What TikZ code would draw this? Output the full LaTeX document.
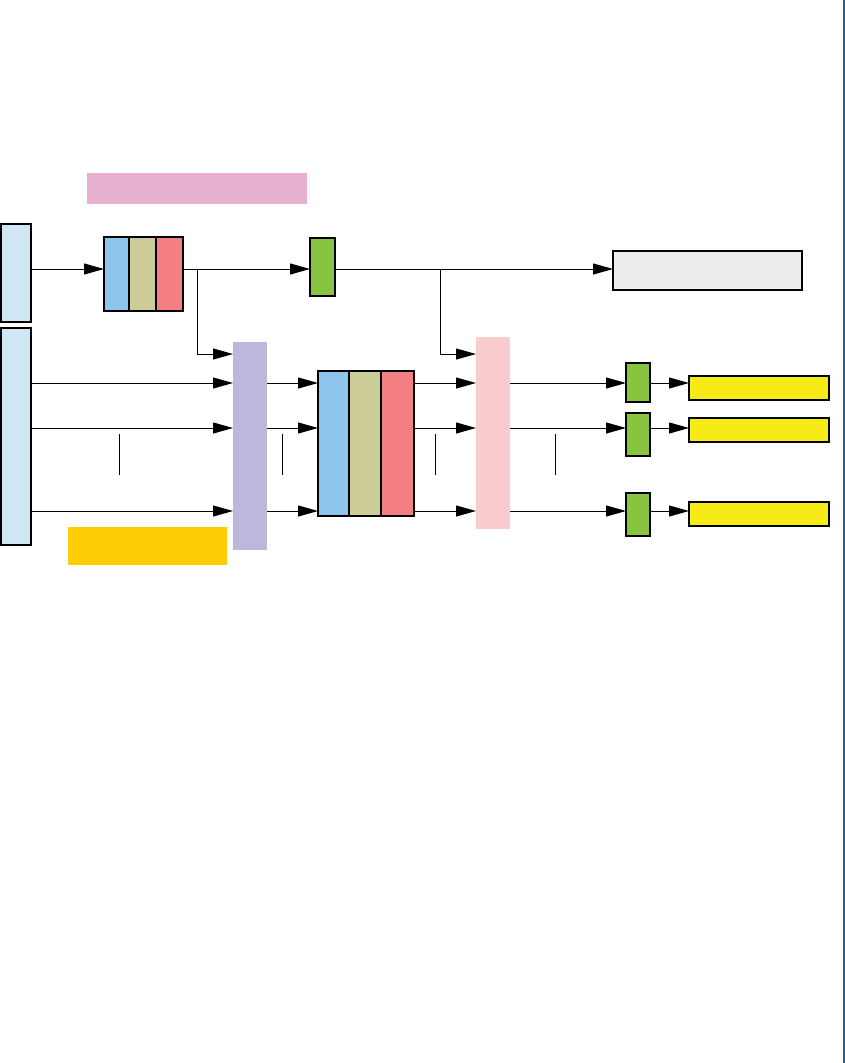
\documentclass[tikz,border=0pt]{standalone}
\usetikzlibrary{arrows.meta,positioning}

\definecolor{inblue}{HTML}{D0E6F5}
\definecolor{hdrpink}{HTML}{E8B1D2}
\definecolor{cblue}{HTML}{8EC5EC}
\definecolor{ckhaki}{HTML}{CCCC99}
\definecolor{cred}{HTML}{F47F80}
\definecolor{cgreen}{HTML}{87C540}
\definecolor{outgray}{HTML}{EDEDED}
\definecolor{mixpurple}{HTML}{BBB8DC}
\definecolor{selpink}{HTML}{F9CCD0}
\definecolor{outyellow}{HTML}{F6EA17}
\definecolor{noteorange}{HTML}{FDCD05}
\definecolor{rulblue}{HTML}{1766A8}

\tikzset{
  box/.style={draw, line width=1.3pt, inner sep=0pt, outer sep=0pt},
  pad/.style={inner sep=0pt, outer sep=0pt},
  link/.style={-{Triangle[length=20pt,width=11pt]}, line width=1pt},
  tick/.style={line width=1pt},
}

\begin{document}
\begin{tikzpicture}[x=1pt, y=-1pt, line cap=butt, line join=miter]
  \useasboundingbox (0,0) rectangle (845,1063);
  \draw[rulblue, line width=2.5pt] (844,0) -- (844,1063);

  % rows
  \coordinate (rowT) at (0,269);
  \coordinate (rowB) at (0,354);
  \coordinate (r1) at (0,383);
  \coordinate (r2) at (0,428);
  \coordinate (r3) at (0,511);

  % inputs and header
  \node[pad, fill=hdrpink, minimum width=220pt, minimum height=31pt] (hdr) at (197,188.5) {};
  \node[box, fill=inblue, minimum width=30pt, minimum height=98pt] (inTop) at (16,273) {};
  \node[box, fill=inblue, minimum width=30pt, minimum height=217pt] (inBot) at (16,436.5) {};
  \node[pad, fill=noteorange, minimum width=159pt, minimum height=38pt] (note) at (147.5,546) {};

  % top chain
  \node[box, fill=cblue, minimum width=25pt, minimum height=74pt] (triA) at (116.5,274) {};
  \node[box, fill=ckhaki, minimum width=27pt, minimum height=74pt, right=0pt of triA] (triB) {};
  \node[box, fill=cred, minimum width=27pt, minimum height=74pt, right=0pt of triB] (triC) {};
  \node[box, fill=cgreen, minimum width=25pt, minimum height=58pt] (gTop) at (322.5,267) {};
  \node[box, fill=outgray, minimum width=189pt, minimum height=39pt] (outT) at (707.5,270.5) {};

  % main chain
  \node[pad, fill=mixpurple, minimum width=34pt, minimum height=208pt] (mix) at (250,446) {};
  \node[box, fill=cblue, minimum width=31pt, minimum height=145pt] (bigA) at (333.5,443.5) {};
  \node[box, fill=ckhaki, minimum width=32pt, minimum height=145pt, right=0pt of bigA] (bigB) {};
  \node[box, fill=cred, minimum width=33pt, minimum height=145pt, right=0pt of bigB] (bigC) {};
  \node[pad, fill=selpink, minimum width=34pt, minimum height=192pt] (sel) at (493,433) {};

  % outputs
  \node[box, fill=cgreen, minimum width=24pt, minimum height=39pt] (g1) at (638,382.5) {};
  \node[box, fill=cgreen, minimum width=24pt, minimum height=43pt] (g2) at (638,434.5) {};
  \node[box, fill=cgreen, minimum width=24pt, minimum height=43pt] (g3) at (638,514.5) {};
  \node[box, fill=outyellow, minimum width=140pt, minimum height=24pt] (y1) at (759,388) {};
  \node[box, fill=outyellow, minimum width=140pt, minimum height=24pt] (y2) at (759,430) {};
  \node[box, fill=outyellow, minimum width=140pt, minimum height=24pt] (y3) at (759,514) {};

  % top links
  \draw[link] (inTop.east |- rowT) -- (triA.west |- rowT);
  \draw[link] (triC.east |- rowT) -- (gTop.west |- rowT);
  \draw[link] (gTop.east |- rowT) -- (outT.west |- rowT);
  \coordinate (brA) at (197,269);
  \coordinate (brB) at (440,269);
  \draw[link] (brA) |- (mix.west |- rowB);
  \draw[link] (brB) |- (sel.west |- rowB);

  % row links
  \foreach \r/\g/\y in {r1/g1/y1, r2/g2/y2, r3/g3/y3} {
    \draw[link] (inBot.east |- \r) -- (mix.west |- \r);
    \draw[link] (mix.east |- \r) -- (bigA.west |- \r);
    \draw[link] (bigC.east |- \r) -- (sel.west |- \r);
    \draw[link] (sel.east |- \r) -- (\g.west |- \r);
    \draw[link] (\g.east |- \r) -- (\y.west |- \r);
  }

  % gaps between rows
  \foreach \x in {119,282,435,555}
    \draw[tick] (\x,434) -- (\x,475);
\end{tikzpicture}
\end{document}
